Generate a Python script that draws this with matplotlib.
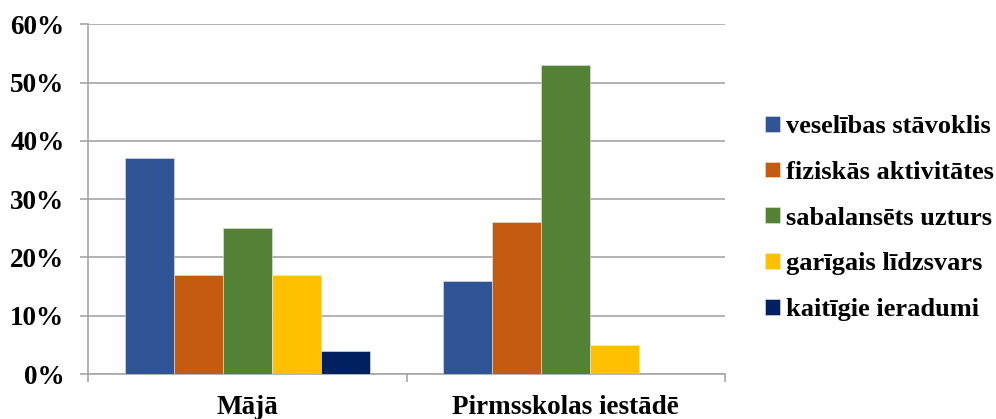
import matplotlib.pyplot as plt
import numpy as np

# dati
kategorijas = ['Mājā', 'Pirmsskolas iestādē']
serijas = ['veselības stāvoklis', 'fiziskās aktivitātes', 'sabalansēts uzturs',
           'garīgais līdzsvars', 'kaitīgie ieradumi']
vertibas = [
    [37, 16],
    [17, 26],
    [25, 53],
    [17, 5],
    [4, 0],
]
krasas = ['#2F5597', '#C55A11', '#538135', '#FFC000', '#002060']

plt.rcParams['font.family'] = ['Liberation Serif', 'DejaVu Serif']
plt.rcParams['font.weight'] = 'bold'

fig = plt.figure(figsize=(9.96, 4.19), dpi=100)
ax = fig.add_axes([88 / 996, 1 - 374 / 419, (725 - 88) / 996, (374 - 24.3) / 419])

x = np.arange(len(kategorijas))
w = 0.154
for i, (nos, v) in enumerate(zip(serijas, vertibas)):
    ax.bar(x + (i - 2) * w, v, w, color=krasas[i], label=nos,
           edgecolor='#e6e6e6', linewidth=0.4, zorder=3)

ax.set_xlim(-0.5, 1.5)
ax.set_ylim(0, 60)
ax.set_yticks(range(0, 61, 10))
ax.set_yticklabels([f'{t}%' for t in range(0, 61, 10)], fontsize=19.5, fontweight='bold')
ax.yaxis.grid(True, color='#A6A6A6', linewidth=1.2, zorder=0)
ax.tick_params(axis='y', length=6, width=1.2, color='#A6A6A6', pad=11)

ax.set_xticks(x)
ax.set_xticklabels(kategorijas, fontsize=19.5, fontweight='bold')
ax.set_xticks([-0.5, 0.5, 1.5], minor=True)
ax.tick_params(axis='x', which='major', length=0, pad=15)
ax.tick_params(axis='x', which='minor', length=6, width=1.2, color='#A6A6A6')

for s in ['top', 'right']:
    ax.spines[s].set_visible(False)
for s in ['left', 'bottom']:
    ax.spines[s].set_color('#A6A6A6')
    ax.spines[s].set_linewidth(1.2)

ax.legend(loc='center left', bbox_to_anchor=(765 / 996, 1 - 218 / 419),
          bbox_transform=fig.transFigure, frameon=False,
          handlelength=0.55, handleheight=0.55, handletextpad=0.25,
          labelspacing=0.86, borderaxespad=0, borderpad=0,
          prop={'weight': 'bold', 'size': 19})

fig.savefig('out.png', dpi=100)
